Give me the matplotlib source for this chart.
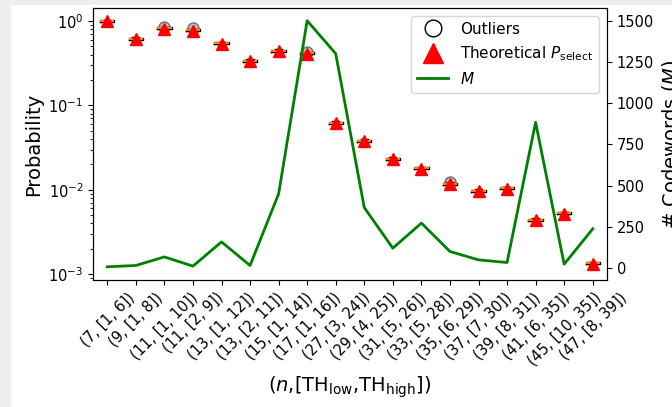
import matplotlib.pyplot as plt
from matplotlib.lines import Line2D
from matplotlib.patches import Rectangle

plt.switch_backend("agg")

# categories (n, [TH_low, TH_high])
labels = ["(7, [1, 6])", "(9, [1, 8])", "(11, [1, 10])", "(11, [2, 9])",
          "(13, [1, 12])", "(13, [2, 11])", "(15, [1, 14])", "(17, [1, 16])",
          "(27, [3, 24])", "(29, [4, 25])", "(31, [5, 26])", "(33, [5, 28])",
          "(35, [6, 29])", "(37, [7, 30])", "(39, [8, 31])", "(41, [6, 35])",
          "(45, [10, 35])", "(47, [8, 39])"]

# observed median selection probability
median_p = [1.0, 0.617, 0.82, 0.78, 0.544, 0.339, 0.445, 0.418,
            0.0624, 0.0382, 0.0232, 0.0181, 0.0118, 0.00975, 0.0105,
            0.00442, 0.00527, 0.00135]

# theoretical P_select
theory_p = [0.99, 0.61, 0.80, 0.77, 0.535, 0.333, 0.437, 0.41,
            0.0618, 0.0377, 0.0229, 0.0178, 0.0116, 0.0096, 0.0103,
            0.00436, 0.0052, 0.00133]

# outliers per category
outliers = [[], [], [0.86], [0.82], [], [], [], [0.43],
            [], [], [], [], [0.0123], [], [], [], [], []]

# number of codewords M
codewords = [8, 16, 68, 12, 159, 16, 450, 1500, 1300, 367, 121, 273,
             101, 50, 34, 884, 24, 238]

m_ticks = [0, 250, 500, 750, 1000, 1250, 1500]

positions = list(range(1, len(labels) + 1))

fig, ax = plt.subplots(figsize=(6.72, 4.07), dpi=100)
fig.patch.set_facecolor("#eeeeee")
fig.patches.append(Rectangle((11 / 672, 0), 1, 1 - 5 / 407, transform=fig.transFigure,
                             facecolor="white", edgecolor="none", zorder=-10))
fig.subplots_adjust(left=93 / 672, right=607 / 672, bottom=1 - 280 / 407, top=1 - 8 / 407)

stats = []
for m, fl in zip(median_p, outliers):
    stats.append(dict(med=m, q1=m * 0.975, q3=m * 1.025,
                      whislo=m * 0.96, whishi=m * 1.04, fliers=fl))

ax.bxp(stats, positions=positions, widths=0.5,
       flierprops=dict(marker="o", markersize=8, markerfacecolor="gray",
                       markeredgecolor="black", alpha=0.5),
       medianprops=dict(color="tab:orange", linewidth=1.5))
ax.plot(positions, theory_p, linestyle="none", marker="^", color="red",
        markersize=9, zorder=5)

ax.set_yscale("log")
ax.set_ylim(8.5e-4, 1.43)
ax.set_xlim(0.5, len(labels) + 0.5)
ax.set_xticks(positions)
ax.set_xticklabels(labels, rotation=45, fontsize=10.5)
ax.tick_params(axis="y", labelsize=10.5)
ax.set_ylabel("Probability", fontsize=14)
ax.set_xlabel(r"($n$,[TH$_{\mathrm{low}}$,TH$_{\mathrm{high}}$])", fontsize=14)

ax2 = ax.twinx()
ax2.plot(positions, codewords, color="green", linewidth=2)
ax2.set_yticks(m_ticks)
ax2.set_ylim(-72, 1577)
ax2.set_ylabel("# Codewords ($M$)", fontsize=14)
ax2.tick_params(axis="y", labelsize=10.5)

handles = [
    Line2D([], [], linestyle="none", marker="o", markersize=12,
           markerfacecolor="none", markeredgecolor="black"),
    Line2D([], [], linestyle="none", marker="^", markersize=14, color="red"),
    Line2D([], [], color="green", linewidth=2),
]
ax2.legend(handles, ["Outliers", r"Theoretical $P_{\mathrm{select}}$", "$M$"],
           loc="upper right", fontsize=11)

fig.savefig("out.png")
plt.close(fig)
